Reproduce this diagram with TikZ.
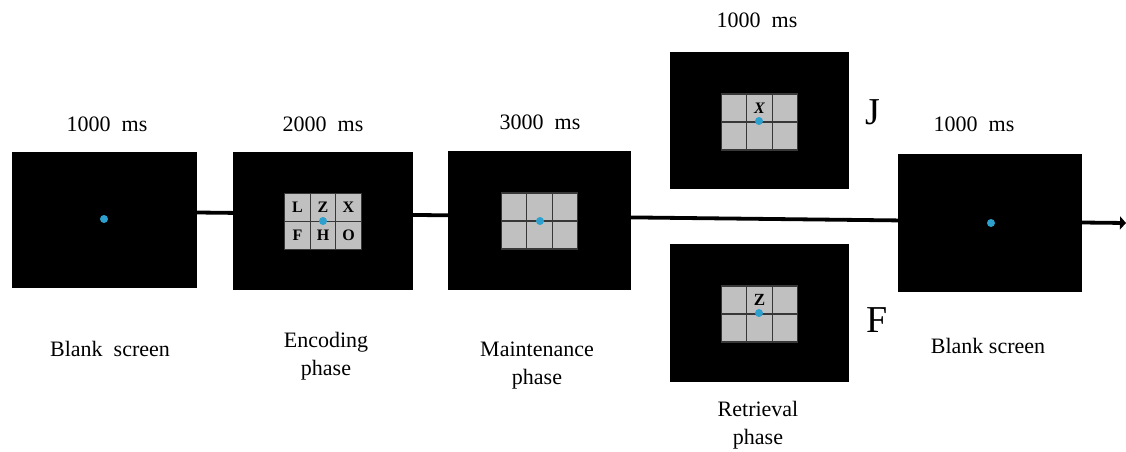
\documentclass[tikz,border=0pt]{standalone}
\usepackage{fontspec}
\setmainfont{Liberation Serif}
\newfontfamily\timesface{Liberation Serif}
\usetikzlibrary{arrows.meta,matrix,backgrounds}
\definecolor{fixblue}{RGB}{46,160,205}
\definecolor{cellgray}{RGB}{192,192,192}
\definecolor{gridline}{RGB}{55,55,55}

\begin{document}
\begin{tikzpicture}[x=1pt,y=-1pt,
  screen/.style={fill=black, draw=none, inner sep=0},
  dot/.style={circle, fill=fixblue, draw=none, inner sep=0, minimum size=8pt},
  cell/.style={draw=gridline, fill=cellgray, line width=1.1pt, inner sep=0,
    minimum width=25.5pt, minimum height=28pt, anchor=center,
    font=\timesface\fontsize{16}{16}\selectfont\bfseries},
  stimgrid/.style={matrix of nodes, nodes in empty cells, inner sep=0,
    column sep=-1.1pt, row sep=-1.1pt, nodes={cell}},
  lbl/.style={font=\timesface\fontsize{22}{28}\selectfont, inner sep=0, align=center},
  key/.style={font=\timesface\fontsize{38}{38}\selectfont, inner sep=0, anchor=base},
  flow/.style={line width=3.8pt, -{Triangle[length=6pt,width=13pt]}}]

\useasboundingbox (0,0) rectangle (1126,452);

% screens
\node[screen, minimum width=185pt, minimum height=136pt] (s1) at (104.5,220) {};
\node[screen, minimum width=180pt, minimum height=138pt] (s2) at (323,221) {};
\node[screen, minimum width=183pt, minimum height=139pt] (s3) at (539.5,220.5) {};
\node[screen, minimum width=179pt, minimum height=137pt] (sj) at (759.5,120.5) {};
\node[screen, minimum width=179pt, minimum height=138pt] (sf) at (759.5,313) {};
\node[screen, minimum width=184pt, minimum height=138pt] (s5) at (990,223) {};

% stimulus grids
\matrix (g2) at (323,221.5) [stimgrid] {L & Z & X \\ F & H & O \\};
\matrix (g3) at (539.5,221) [stimgrid] { & & \\ & & \\};
\matrix (gj) at (759.5,122) [stimgrid]
  { & |[font=\timesface\fontsize{16}{16}\selectfont\bfseries\itshape]| X & \\ & & \\};
\matrix (gf) at (759.5,314) [stimgrid]
  { & |[font=\timesface\fontsize{17}{17}\selectfont\bfseries]| Z & \\ & & \\};

% fixation dots
\node[dot] (d1) at (104,219) {};
\node[dot] (d2) at (323,221) {};
\node[dot] (d3) at (540,221) {};
\node[dot] (dj) at (759,121) {};
\node[dot] (df) at (759,313) {};
\node[dot] (d5) at (991,223) {};

% time line behind the screens
\coordinate (lend) at (1126,223);
\begin{scope}[on background layer]
  \draw[flow] ([yshift=7.5pt]s1.east) -- (lend);
\end{scope}

% durations
\node[lbl, anchor=base] (t1) at (107,131) {1000~~ms};
\node[lbl, anchor=base] (t2) at (323,131) {2000~~ms};
\node[lbl, anchor=base] (t3) at (540,129) {3000~~ms};
\node[lbl, anchor=base] (tj) at (757,28) {1000~~ms};
\node[lbl, anchor=base] (t5) at (974,131) {1000~~ms};

% response keys
\node[key] (kj) at (873,124) {J};
\node[key] (kf) at (877,332) {F};

% phase names
\node[lbl, anchor=base] (p1) at (110,356) {Blank~~screen};
\node[lbl] (p2) at (326,356) {Encoding\\phase};
\node[lbl] (p3) at (537,366) {Maintenance\\phase};
\node[lbl] (p4) at (758,425) {Retrieval\\phase};
\node[lbl, anchor=base] (p5) at (988,353) {Blank screen};
\end{tikzpicture}
\end{document}
